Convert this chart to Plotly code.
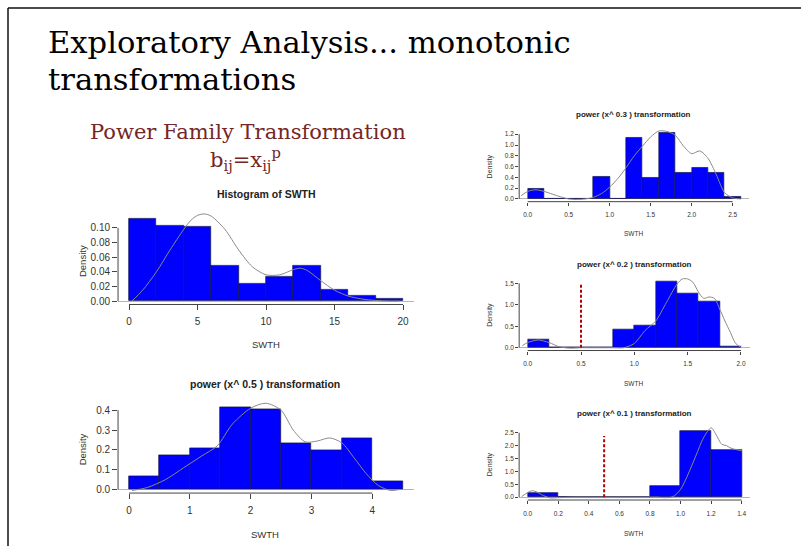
import plotly.graph_objects as go

W, H = 801, 548

# ---------------- data ----------------
title_line1 = "Exploratory Analysis... monotonic"
title_line2 = "transformations"
subtitle = "Power Family Transformation"
formula = "b<sub>ij</sub>=x<sub>ij</sub><sup>p</sup>"

panel_titles = ["Histogram of SWTH",
                "power (x^ 0.5 ) transformation",
                "power (x^ 0.3 ) transformation",
                "power (x^ 0.2 ) transformation",
                "power (x^ 0.1 ) transformation"]
x_label = "SWTH"
y_label = "Density"

# Panel 1: raw SWTH
p1_edges = [0, 2, 4, 6, 8, 10, 12, 14, 16, 18, 20]
p1_density = [0.1127, 0.103, 0.101, 0.049, 0.024, 0.034, 0.049, 0.015, 0.008, 0.003]
p1_curve_x = [0.2, 1, 2, 3, 4, 4.5, 5, 5.5, 6, 7, 8, 9, 10, 11, 12, 12.5, 13, 14, 15, 16, 17, 18, 19, 19.7]
p1_curve_y = [0.0, 0.015, 0.04, 0.07, 0.098, 0.11, 0.117, 0.119, 0.116, 0.098, 0.07, 0.047, 0.036, 0.036,
              0.043, 0.045, 0.042, 0.028, 0.015, 0.007, 0.003, 0.001, 0.0, 0.0]
p1_xticks = [0, 5, 10, 15, 20]
p1_yticks = [0.0, 0.02, 0.04, 0.06, 0.08, 0.10]

# Panel 2: x^0.5
p2_edges = [0, 0.5, 1, 1.5, 2, 2.5, 3, 3.5, 4, 4.5]
p2_density = [0.069, 0.171, 0.208, 0.415, 0.407, 0.234, 0.197, 0.258, 0.044]
p2_curve_x = [0.05, 0.3, 0.6, 0.9, 1.2, 1.45, 1.7, 2.0, 2.25, 2.5, 2.7, 2.9, 3.1, 3.3, 3.5, 3.7, 3.9, 4.1, 4.3, 4.45]
p2_curve_y = [-0.005, 0.01, 0.05, 0.11, 0.17, 0.22, 0.33, 0.41, 0.435, 0.40, 0.30, 0.24, 0.245, 0.26, 0.235,
              0.16, 0.08, 0.02, -0.005, 0.0]
p2_xticks = [0, 1, 2, 3, 4]
p2_yticks = [0.0, 0.1, 0.2, 0.3, 0.4]

# Panel 3: x^0.3
p3_edges = [0.0, 0.2, 0.4, 0.6, 0.8, 1.0, 1.2, 1.4, 1.6, 1.8, 2.0, 2.2, 2.4, 2.6]
p3_density = [0.19, 0, 0, 0, 0.418, 0, 1.138, 0.388, 1.225, 0.486, 0.572, 0.48, 0.037]
p3_curve_x = [-0.08, 0.0, 0.1, 0.2, 0.3, 0.4, 0.5, 0.6, 0.7, 0.8, 0.9, 1.0, 1.1, 1.2, 1.3, 1.4, 1.5,
              1.6, 1.7, 1.8, 1.9, 2.0, 2.1, 2.2, 2.3, 2.4, 2.5, 2.6]
p3_curve_y = [0.06, 0.14, 0.17, 0.14, 0.09, 0.04, 0.0, -0.01, 0.0, 0.03, 0.1, 0.22, 0.38, 0.58, 0.8, 0.98,
              1.15, 1.26, 1.25, 1.18, 0.98, 0.84, 0.89, 0.75, 0.45, 0.12, 0.02, 0.0]
p3_xticks = [0.0, 0.5, 1.0, 1.5, 2.0, 2.5]
p3_yticks = [0.0, 0.2, 0.4, 0.6, 0.8, 1.0, 1.2]

# Panel 4: x^0.2
p4_edges = [0.0, 0.2, 0.4, 0.6, 0.8, 1.0, 1.2, 1.4, 1.6, 1.8, 2.0]
p4_density = [0.193, 0, 0, 0, 0.425, 0.51, 1.538, 1.268, 1.075, 0.02]
p4_curve_x = [-0.05, 0.0, 0.1, 0.2, 0.3, 0.4, 0.5, 0.6, 0.7, 0.8, 0.9, 1.0, 1.1, 1.2, 1.3, 1.4, 1.45,
              1.5, 1.55, 1.6, 1.65, 1.7, 1.75, 1.8, 1.85, 1.9, 1.95, 2.0]
p4_curve_y = [0.05, 0.12, 0.18, 0.12, 0.02, -0.01, 0.0, 0.0, 0.0, 0.0, 0.0, 0.1, 0.4, 0.62, 1.05, 1.48,
              1.6, 1.6, 1.52, 1.3, 1.15, 1.18, 1.15, 0.9, 0.62, 0.36, 0.1, 0.01]
p4_xticks = [0.0, 0.5, 1.0, 1.5, 2.0]
p4_yticks = [0.0, 0.5, 1.0, 1.5]
p4_cut_x = 0.5
p4_cut_top = 1.47

# Panel 5: x^0.1
p5_edges = [0.0, 0.2, 0.4, 0.6, 0.8, 1.0, 1.2, 1.4]
p5_density = [0.18, 0, 0, 0, 0.425, 2.55, 1.83]
p5_curve_x = [-0.04, 0.0, 0.03, 0.06, 0.09, 0.12, 0.15, 0.2, 0.3, 0.4, 0.5, 0.6, 0.7, 0.8, 0.85, 0.9,
              0.95, 1.0, 1.05, 1.1, 1.15, 1.2, 1.23, 1.27, 1.3, 1.33, 1.36, 1.4]
p5_curve_y = [0.02, 0.18, 0.25, 0.2, 0.1, 0.02, -0.03, -0.02, 0.0, 0.0, 0.0, 0.0, 0.0, 0.0, 0.0, -0.02,
              0.02, 0.3, 0.9, 1.6, 2.3, 2.69, 2.45, 2.05, 2.0, 1.9, 1.85, 1.8]
p5_xticks = [0.0, 0.2, 0.4, 0.6, 0.8, 1.0, 1.2, 1.4]
p5_yticks = [0.0, 0.5, 1.0, 1.5, 2.0, 2.5]
p5_cut_x = 0.5
p5_cut_top = 2.37

# ---------------- layout helpers ----------------
def fx(p):
    return p / W

def fy(p):
    return 1 - p / H

def x_domain(v0, p0, v1, p1, lo, hi):
    s = (p1 - p0) / (v1 - v0)
    return [fx(p0 + (lo - v0) * s), fx(p0 + (hi - v0) * s)]

def y_domain(v0, p0, v1, p1, lo, hi):
    s = (p1 - p0) / (v1 - v0)
    return [fy(p0 + (lo - v0) * s), fy(p0 + (hi - v0) * s)]

panels = [
    dict(edges=p1_edges, dens=p1_density, cx=p1_curve_x, cy=p1_curve_y, xt=p1_xticks, yt=p1_yticks,
         xfmt="d", yfmt=".2f", xr=[-0.8, 20.8], yr=[-0.0045, 0.122],
         xa=(0, 129, 20, 403), ya=(0, 302.3, 0.1, 228.7), big=True,
         title=(266, 195), xlab=(266, 346), ylab=(82, 262)),
    dict(edges=p2_edges, dens=p2_density, cx=p2_curve_x, cy=p2_curve_y, xt=p2_xticks, yt=p2_yticks,
         xfmt="d", yfmt=".1f", xr=[-0.18, 4.68], yr=[-0.018, 0.45],
         xa=(0, 129, 4, 372.3), ya=(0, 491.3, 0.4, 411.7), big=True,
         title=(265, 385), xlab=(265, 536), ylab=(82, 451)),
    dict(edges=p3_edges, dens=p3_density, cx=p3_curve_x, cy=p3_curve_y, xt=p3_xticks, yt=p3_yticks,
         xfmt=".1f", yfmt=".1f", xr=[-0.104, 2.704], yr=[-0.05, 1.3],
         xa=(0, 527.7, 2.5, 732.7), ya=(0, 199.7, 1.2, 134.7), big=False,
         title=(633, 115), xlab=(633, 234), ylab=(490, 167)),
    dict(edges=p4_edges, dens=p4_density, cx=p4_curve_x, cy=p4_curve_y, xt=p4_xticks, yt=p4_yticks,
         xfmt=".1f", yfmt=".1f", xr=[-0.08, 2.08], yr=[-0.065, 1.68],
         xa=(0, 527.7, 2.0, 741), ya=(0, 349, 1.5, 284.3), big=False,
         title=(634, 265), xlab=(633, 385), ylab=(490, 316),
         cut=(p4_cut_x, p4_cut_top)),
    dict(edges=p5_edges, dens=p5_density, cx=p5_curve_x, cy=p5_curve_y, xt=p5_xticks, yt=p5_yticks,
         xfmt=".1f", yfmt=".1f", xr=[-0.056, 1.456], yr=[-0.11, 2.8],
         xa=(0, 527.7, 1.4, 741.7), ya=(0, 499, 2.5, 434.3), big=False,
         title=(634, 415), xlab=(633, 535), ylab=(490, 466),
         cut=(p5_cut_x, p5_cut_top)),
]

fig = go.Figure()
layout = dict(
    width=W, height=H, margin=dict(l=0, r=0, t=0, b=0),
    paper_bgcolor="white", plot_bgcolor="rgba(0,0,0,0)",
    showlegend=False, bargap=0,
    font=dict(family="Liberation Sans, Arial, sans-serif", color="#333"),
)
shapes = []
annotations = []

for i, p in enumerate(panels, start=1):
    sfx = "" if i == 1 else str(i)
    xref, yref = "x" + sfx, "y" + sfx
    edges = p["edges"]
    centers = [(a + b) / 2 for a, b in zip(edges[:-1], edges[1:])]
    widths = [b - a for a, b in zip(edges[:-1], edges[1:])]
    fig.add_trace(go.Bar(x=centers, y=p["dens"], width=widths, xaxis=xref, yaxis=yref,
                         marker=dict(color="#0000ff", line=dict(color="#14144d", width=0.7))))
    fig.add_trace(go.Scatter(x=p["cx"], y=p["cy"], mode="lines", xaxis=xref, yaxis=yref,
                             line=dict(color="#8a8a8a", width=1, shape="spline", smoothing=0.8)))
    if "cut" in p:
        cx_, ct_ = p["cut"]
        fig.add_trace(go.Scatter(x=[cx_, cx_], y=[0, ct_], mode="lines", xaxis=xref, yaxis=yref,
                                 line=dict(color="#b40000", width=2, dash="3px,2px")))
    big = p["big"]
    tfs = 10 if big else 6.5
    tl = 5 if big else 3
    layout["xaxis" + sfx] = dict(
        domain=x_domain(*p["xa"], p["xr"][0], p["xr"][1]), range=p["xr"], anchor=yref,
        tickvals=p["xt"], tickformat=p["xfmt"], ticks="outside", ticklen=tl, tickwidth=1,
        tickcolor="#444", tickfont=dict(size=tfs, color="#333"), showgrid=False, zeroline=False,
        showline=False, fixedrange=True, ticklabelstandoff=3 if big else 4)
    layout["yaxis" + sfx] = dict(
        domain=y_domain(*p["ya"], p["yr"][0], p["yr"][1]), range=p["yr"], anchor=xref,
        tickvals=p["yt"], tickformat=p["yfmt"], ticks="outside", ticklen=tl, tickwidth=1,
        tickcolor="#444", tickfont=dict(size=tfs, color="#333"), showgrid=False, zeroline=True,
        zerolinecolor="#b5b5b5", zerolinewidth=1, showline=False, fixedrange=True)
    # R-style axis lines spanning first..last tick
    shapes.append(dict(type="line", xref=xref, yref=yref + " domain", x0=p["xt"][0], x1=p["xt"][-1],
                       y0=0, y1=0, line=dict(color="#444", width=1)))
    shapes.append(dict(type="line", xref=xref + " domain", yref=yref, x0=0, x1=0,
                       y0=p["yt"][0], y1=p["yt"][-1], line=dict(color="#444", width=1)))
    # titles and labels
    annotations.append(dict(text="<b>" + panel_titles[i - 1] + "</b>", x=fx(p["title"][0]),
                            y=fy(p["title"][1]), xref="paper", yref="paper", showarrow=False,
                            xanchor="center", yanchor="middle",
                            font=dict(size=10.5 if big else 8, color="#222")))
    annotations.append(dict(text=x_label, x=fx(p["xlab"][0]), y=fy(p["xlab"][1]), xref="paper",
                            yref="paper", showarrow=False, xanchor="center", yanchor="middle",
                            font=dict(size=9.5 if big else 6.5, color="#333")))
    annotations.append(dict(text=y_label, x=fx(p["ylab"][0]), y=fy(p["ylab"][1]), xref="paper",
                            yref="paper", showarrow=False, xanchor="center", yanchor="middle",
                            textangle=-90, font=dict(size=9.5 if big else 7, color="#333")))

# slide text
serif = "DejaVu Serif, Liberation Serif, serif"
annotations.append(dict(text=title_line1, x=fx(46), y=fy(43), xref="paper", yref="paper",
                        showarrow=False, xanchor="left", yanchor="middle",
                        font=dict(family=serif, size=30.6, color="#000")))
annotations.append(dict(text=title_line2, x=fx(46), y=fy(80), xref="paper", yref="paper",
                        showarrow=False, xanchor="left", yanchor="middle",
                        font=dict(family=serif, size=30.6, color="#000")))
annotations.append(dict(text=subtitle, x=fx(248), y=fy(132), xref="paper", yref="paper",
                        showarrow=False, xanchor="center", yanchor="middle",
                        font=dict(family=serif, size=21, color="#752626")))
annotations.append(dict(text=formula, x=fx(246), y=fy(160), xref="paper", yref="paper",
                        showarrow=False, xanchor="center", yanchor="middle",
                        font=dict(family=serif, size=21, color="#752626")))

# slide border (top and left)
shapes.append(dict(type="line", xref="paper", yref="paper", x0=fx(8), x1=1, y0=fy(8), y1=fy(8),
                   line=dict(color="#111", width=1.5)))
shapes.append(dict(type="line", xref="paper", yref="paper", x0=fx(8), x1=fx(8), y0=fy(8), y1=0,
                   line=dict(color="#111", width=1.5)))

layout["shapes"] = shapes
layout["annotations"] = annotations
fig.update_layout(**layout)
fig.write_html("out.html")
